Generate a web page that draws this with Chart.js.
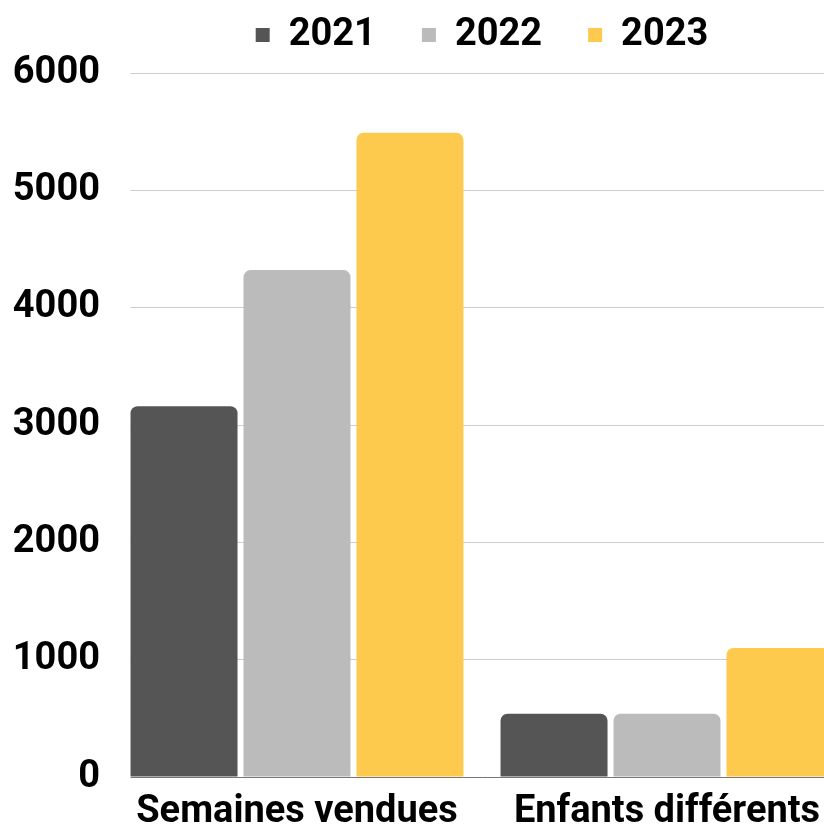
<!DOCTYPE html>
<html>
<head>
<meta charset="utf-8">
<script src="https://cdn.jsdelivr.net/npm/chart.js@4.4.1/dist/chart.umd.min.js"></script>
<style>
  html, body { margin: 0; padding: 0; background: #fff; overflow: hidden; }
  #cadre { width: 824px; height: 827px; overflow: hidden; position: relative; }
  #cadre canvas { position: absolute; left: 0; top: -30px; }
</style>
</head>
<body>
<div id="cadre"><canvas id="graphique" width="852" height="857"></canvas></div>
<script>
const categories = ['Semaines vendues', 'Enfants différents'];
const annees = ['2021', '2022', '2023'];
const valeurs2021 = [3160, 540];
const valeurs2022 = [4320, 540];
const valeurs2023 = [5490, 1100];
const couleurs = ['#555555', '#bbbbbb', '#fdca4d'];

document.addEventListener("DOMContentLoaded", function () {
    Chart.defaults.font.family = 'Roboto';
    Chart.defaults.font.weight = 'bold';
    Chart.defaults.font.size = 38;
    Chart.defaults.color = '#000';

    var ctx = document.getElementById('graphique').getContext('2d');
    var series = [valeurs2021, valeurs2022, valeurs2023];

    new Chart(ctx, {
        type: 'bar',
        data: {
            labels: categories,
            datasets: annees.map(function (a, i) {
                return {
                    label: a,
                    data: series[i],
                    backgroundColor: couleurs[i],
                    borderRadius: 7,
                    borderSkipped: 'start',
                    categoryPercentage: 0.916,
                    barPercentage: 0.947
                };
            })
        },
        options: {
            responsive: false,
            animation: false,
            layout: { padding: 0 },
            plugins: {
                tooltip: { enabled: false },
                legend: {
                    position: 'top',
                    fullSize: false,
                    labels: {
                        boxWidth: 14,
                        boxHeight: 14,
                        padding: 46
                    }
                }
            },
            scales: {
                x: {
                    grid: { display: false, drawTicks: false },
                    border: { display: true, color: '#777', width: 1 },
                    ticks: { padding: 13, maxRotation: 0 },
                    afterFit: function (s) { s.height = 50; }
                },
                y: {
                    min: 0,
                    max: 6000,
                    ticks: {
                        stepSize: 1000,
                        padding: 12,
                        callback: function (v) { return String(v); }
                    },
                    grid: { color: '#cccccc', drawTicks: false },
                    border: { display: false },
                    afterFit: function (s) { s.width = 112; }
                }
            }
        },
        plugins: [{
            id: 'margeLegende',
            beforeInit: function (chart) {
                var fitOrig = chart.legend.fit;
                chart.legend.fit = function () {
                    fitOrig.call(this);
                    this.height += 9;
                };
            }
        }, {
            // les lignes de la grille commencent au bord de la première barre
            id: 'masqueGrille',
            beforeDatasetsDraw: function (chart) {
                var barre = chart.getDatasetMeta(0).data[0];
                var gauche = barre.x - barre.width / 2;
                var a = chart.chartArea;
                chart.ctx.save();
                chart.ctx.fillStyle = '#fff';
                chart.ctx.fillRect(a.left - 1, a.top - 2, gauche - a.left + 1, a.bottom - a.top + 4);
                chart.ctx.restore();
            }
        }]
    });
});
</script>
</body>
</html>
